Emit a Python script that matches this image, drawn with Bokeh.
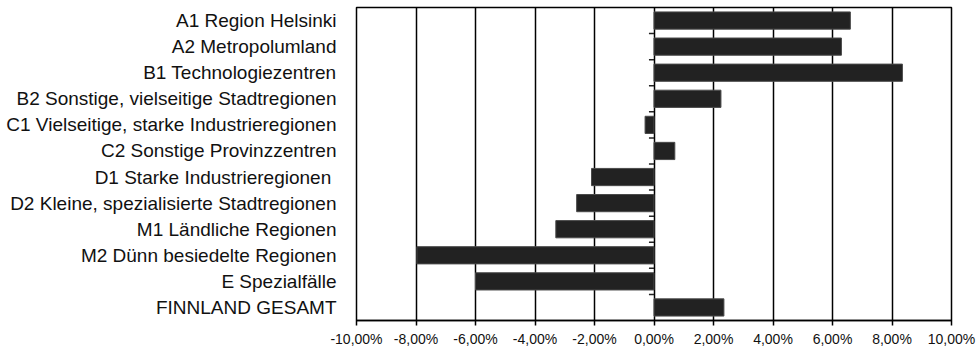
from bokeh.plotting import figure
from bokeh.models import Range1d, FixedTicker
from bokeh.embed import file_html
from bokeh.resources import INLINE

# Regional change by region type (percent)
categories = [
    "A1 Region Helsinki",
    "A2 Metropolumland",
    "B1 Technologiezentren",
    "B2 Sonstige, vielseitige Stadtregionen",
    "C1 Vielseitige, starke Industrieregionen",
    "C2 Sonstige Provinzzentren",
    "D1 Starke Industrieregionen ",
    "D2 Kleine, spezialisierte Stadtregionen",
    "M1 Ländliche Regionen",
    "M2 Dünn besiedelte Regionen",
    "E Spezialfälle",
    "FINNLAND GESAMT",
]
values = [6.6, 6.3, 8.35, 2.25, -0.3, 0.7, -2.1, -2.6, -3.3, -7.97, -6.0, 2.35]

x_ticks = [-10, -8, -6, -4, -2, 0, 2, 4, 6, 8, 10]
x_tick_labels = ["-10,00%", "-8,00%", "-6,00%", "-4,00%", "-2,00%", "0,00%",
                 "2,00%", "4,00%", "6,00%", "8,00%", "10,00%"]

FONT = "Liberation Sans"
n = len(categories)
idx = list(range(n))

p = figure(
    width=980, height=349,
    x_range=Range1d(x_ticks[0], x_ticks[-1]),
    y_range=Range1d(n - 0.5, -0.5),
    output_backend="svg", toolbar_location=None,
    min_border_left=356, min_border_right=29,
    min_border_top=7, min_border_bottom=27,
)
p.background_fill_color = "white"
p.border_fill_color = "white"
p.outline_line_color = "black"
p.outline_line_width = 1.5

# vertical grid at every tick
p.ygrid.grid_line_color = None
p.xgrid.ticker = FixedTicker(ticks=x_ticks)
p.xgrid.grid_line_color = "black"
p.xgrid.grid_line_width = 1.5

# bars
p.hbar(y=idx, left=0, right=values, height=0.66,
       fill_color="#222222", line_color="#4a4a4a", line_width=1)

# small category-separator ticks on the zero line
bounds = [i + 0.5 for i in range(n - 1)]
p.segment(x0=[0] * len(bounds), x1=[-0.17] * len(bounds), y0=bounds, y1=bounds,
          line_color="#222222", line_width=1.5)

# x axis
xa = p.xaxis[0]
xa.ticker = FixedTicker(ticks=x_ticks)
xa.major_label_overrides = {t: l for t, l in zip(x_ticks, x_tick_labels)}
xa.axis_line_color = "black"
xa.axis_line_width = 1.5
xa.major_tick_line_color = "black"
xa.major_tick_line_width = 1.5
xa.major_tick_out = 5
xa.major_tick_in = 0
xa.minor_tick_line_color = None
xa.major_label_text_font = FONT
xa.major_label_text_font_size = "14px"
xa.major_label_text_color = "#111111"
xa.major_label_standoff = 5

# y axis: category names only
ya = p.yaxis[0]
ya.ticker = FixedTicker(ticks=idx)
ya.major_label_overrides = {i: c for i, c in zip(idx, categories)}
ya.axis_line_color = None
ya.major_tick_line_color = None
ya.minor_tick_line_color = None
ya.major_tick_out = 0
ya.major_tick_in = 0
ya.major_label_standoff = 20
ya.major_label_text_font = FONT
ya.major_label_text_font_size = "19px"
ya.major_label_text_color = "#111111"

open("out.html", "w").write(file_html(p, INLINE))
